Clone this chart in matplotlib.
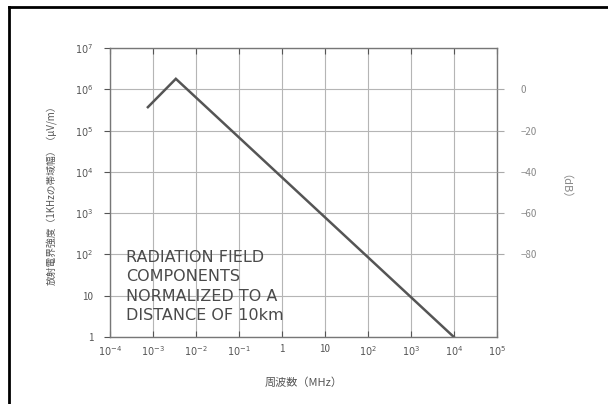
import matplotlib
matplotlib.use("Agg")
import matplotlib.pyplot as plt
from matplotlib.lines import Line2D
from matplotlib.ticker import FixedLocator, NullLocator

plt.rcParams['font.family'] = ['Noto Sans CJK JP', 'DejaVu Sans']

# radiation field curve
freq_mhz = [7.6e-4, 3.4e-3, 1e4]
field_uv = [3.7e5, 1.8e6, 1.0]

x_ticks = [1e-4, 1e-3, 1e-2, 1e-1, 1, 10, 1e2, 1e3, 1e4, 1e5]
x_labels = [r"$10^{-4}$", r"$10^{-3}$", r"$10^{-2}$", r"$10^{-1}$", "1", "10",
            r"$10^{2}$", r"$10^{3}$", r"$10^{4}$", r"$10^{5}$"]
y_ticks = [1, 10, 1e2, 1e3, 1e4, 1e5, 1e6, 1e7]
y_labels = ["1", "10", r"$10^{2}$", r"$10^{3}$", r"$10^{4}$", r"$10^{5}$",
            r"$10^{6}$", r"$10^{7}$"]
db_ticks = [0, -20, -40, -60, -80]
db_labels = ["0", "−20", "−40", "−60", "−80"]

ink = "#555555"
grid_c = "#b5b5b5"

fig = plt.figure(figsize=(6.08, 4.04), dpi=100)
ax = fig.add_axes([0.181, 0.166, 0.636, 0.715])

ax.set_xscale("log")
ax.set_yscale("log")
ax.set_xlim(1e-4, 1e5)
ax.set_ylim(1, 1e7)

ax.plot(freq_mhz, field_uv, color="#555555", lw=1.8, solid_joinstyle="miter")

ax.xaxis.set_major_locator(FixedLocator(x_ticks))
ax.set_xticklabels(x_labels)
ax.xaxis.set_minor_locator(NullLocator())
ax.yaxis.set_major_locator(FixedLocator(y_ticks))
ax.set_yticklabels(y_labels)
ax.yaxis.set_minor_locator(NullLocator())

ax.grid(True, color=grid_c, lw=0.8)
ax.tick_params(axis="x", direction="in", length=4, color=ink, labelsize=7,
               labelcolor=ink, top=True, pad=5)
ax.tick_params(axis="y", direction="out", length=4, color=ink, labelsize=7,
               labelcolor=ink, pad=8)
for s in ax.spines.values():
    s.set_color("#777777")
    s.set_linewidth(1.0)

ax.set_xlabel("周波数（MHz）", fontsize=8, color=ink, labelpad=14)
ax.set_ylabel("放射電界強度（1KHzの帯域幅）（μV/m）", fontsize=7, color=ink,
              labelpad=12)

ax.text(0.042, 0.30, "RADIATION FIELD\nCOMPONENTS\nNORMALIZED TO A\nDISTANCE OF 10km",
        transform=ax.transAxes, fontsize=11.5, color="#4a4a4a", va="top", ha="left",
        linespacing=1.35, family="DejaVu Sans")

ax2 = ax.twinx()
ax2.set_ylim(-120, 20)
ax2.yaxis.set_major_locator(FixedLocator(db_ticks))
ax2.set_yticklabels(db_labels)
ax2.tick_params(axis="y", direction="out", length=5, color="#aaaaaa",
                labelsize=7, labelcolor="#888888", pad=12)
for s in ax2.spines.values():
    s.set_visible(False)
ax2.set_ylabel("（dB）", fontsize=8, color="#888888", rotation=270, labelpad=20)

# scan frame
fig.add_artist(Line2D([0.015, 1.0], [0.983, 0.983], color="black", lw=2))
fig.add_artist(Line2D([0.015, 0.015], [0.0, 0.983], color="black", lw=2))

fig.savefig("out.png", dpi=100)
